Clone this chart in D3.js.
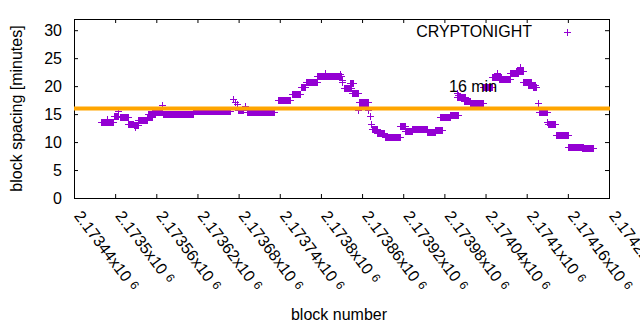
<!DOCTYPE html>
<html>
<head>
<meta charset="utf-8">
<script src="https://cdn.jsdelivr.net/npm/d3@7"></script>
<style>
  html, body { margin: 0; padding: 0; background: #fff; }
  svg { display: block; font-family: "Liberation Sans", Arial, sans-serif; }
</style>
</head>
<body>
<svg id="chart" width="640" height="330"></svg>
<script>
// ---- data (block offset from 2173440, run start/end, block spacing in minutes) ----
const blockBase = 2173440;
const runStart = [39,48,50,58,64,67,78,87,89,94,106,108,113,128,130,174,232,235,238,239,249,252,267,297,318,331,338,355,366,388,390,391,394,402,406,414,415,420,429,431,433,434,442,453,475,483,493,515,526,534,548,558,560,558,568,578,597,609,617,620,636,645,650,655,662,669,676,678,690,691,702,720,741];
const runEnd   = [48,48,57,64,64,79,86,93,89,106,114,118,128,128,173,228,232,235,238,246,249,266,292,315,329,337,354,389,366,388,390,391,404,407,414,414,428,424,429,431,433,442,452,475,483,493,515,526,537,548,560,558,560,570,578,597,609,622,617,636,648,654,650,667,672,674,676,690,690,701,720,742,756];
const runValue = [13.5,14.2,13.5,14.7,15.6,14.4,13.3,13.0,12.7,13.9,14.5,15.0,15.4,16.7,15.1,15.6,17.7,17.2,16.8,15.7,16.4,15.4,15.3,17.6,18.6,19.9,20.8,21.8,22.4,22.2,21.1,20.8,19.6,20.5,18.8,15.7,17.2,16.4,15.7,14.6,13.3,12.3,11.6,10.9,12.8,12.0,12.4,11.8,12.1,14.4,14.9,18.7,18.5,18.0,17.4,17.0,19.9,21.7,22.4,21.3,22.4,22.7,23.4,20.7,20.2,19.8,16.9,15.3,13.6,13.3,11.25,9.05,8.9];

const xTicks = [2173440,2173500,2173560,2173620,2173680,2173740,2173800,2173860,2173920,2173980,2174040,2174100,2174160,2174220];
const yTicks = [0,5,10,15,20,25,30];
const refValue = 16;
const refLabel = "16 min";
const seriesName = "CRYPTONIGHT";

// expand runs to one point per block
const points = [];
runStart.forEach((s, i) => {
  for (let b = s; b <= runEnd[i]; b++) points.push({block: blockBase + b, value: runValue[i]});
});

// ---- layout ----
const svg = d3.select("#chart");
const L = 74, R = 609, T = 19, B = 198;
const x = d3.scaleLinear().domain([2173440, 2174220]).range([L, R]);
const y = d3.scaleLinear().domain([0, 32]).range([B, T]);
const purple = "#9400D3", orange = "#FFA500";
const plusPath = "M-3.5,0H3.5M0,-3.5V3.5";

// axes with inward ticks
const gy = svg.append("g").attr("transform", `translate(${L},0)`)
  .call(d3.axisLeft(y).tickValues(yTicks).tickSizeInner(-4).tickSizeOuter(0).tickPadding(12));
const gyr = svg.append("g").attr("transform", `translate(${R},0)`)
  .call(d3.axisRight(y).tickValues(yTicks).tickSizeInner(-4).tickSizeOuter(0).tickFormat(""));
const gx = svg.append("g").attr("transform", `translate(0,${B})`)
  .call(d3.axisBottom(x).tickValues(xTicks).tickSizeInner(-4).tickSizeOuter(0).tickFormat(""));
const gxt = svg.append("g").attr("transform", `translate(0,${T})`)
  .call(d3.axisTop(x).tickValues(xTicks).tickSizeInner(-4).tickSizeOuter(0).tickFormat(""));
[gy, gyr, gx, gxt].forEach(g => {
  g.select(".domain").remove();
  g.selectAll(".tick line").attr("stroke", "#000");
});
gy.selectAll(".tick text").attr("fill", "#000").attr("font-size", 16)
  .attr("font-family", "Liberation Sans, Arial, sans-serif");

// rotated x tick labels like "2.1735x10^6"
gx.selectAll(".tick").each(function(d) {
  const t = d3.select(this).append("text")
    .attr("transform", "translate(-1,18) rotate(53)")
    .attr("text-anchor", "start")
    .attr("fill", "#000")
    .attr("font-size", 16)
    .attr("font-family", "Liberation Sans, Arial, sans-serif");
  t.append("tspan").text(String(+(d / 1e6).toFixed(5)) + "x10");
  t.append("tspan").attr("dx", 5).attr("dy", -3).attr("font-size", 12).text("6");
});

// border
svg.append("rect").attr("x", L + 0.5).attr("y", T + 0.5)
  .attr("width", R - L).attr("height", B - T)
  .attr("fill", "none").attr("stroke", "#000").attr("stroke-width", 1);

// points
svg.append("g").selectAll("path").data(points).join("path")
  .attr("d", plusPath)
  .attr("transform", d => `translate(${Math.round(x(d.block)) + 0.5},${Math.round(y(d.value)) + 0.5})`)
  .attr("fill", "none").attr("stroke", purple).attr("stroke-width", 1);

// reference line
svg.append("line")
  .attr("x1", L).attr("x2", R + 1)
  .attr("y1", y(refValue)).attr("y2", y(refValue))
  .attr("stroke", orange).attr("stroke-width", 4);

svg.append("text").attr("x", 449).attr("y", 92)
  .attr("font-size", 16).attr("fill", "#000").text(refLabel);

// legend
svg.append("text").attr("x", 532).attr("y", 37).attr("text-anchor", "end")
  .attr("font-size", 16).attr("fill", "#000").text(seriesName);
svg.append("path").attr("d", plusPath)
  .attr("transform", "translate(567.5,32.5)")
  .attr("fill", "none").attr("stroke", purple).attr("stroke-width", 1);

// axis titles
svg.append("text")
  .attr("transform", `translate(22,${(T + B) / 2}) rotate(-90)`)
  .attr("text-anchor", "middle").attr("font-size", 16).attr("fill", "#000")
  .text("block spacing [minutes]");
svg.append("text").attr("x", 339).attr("y", 320).attr("text-anchor", "middle")
  .attr("font-size", 16).attr("fill", "#000").text("block number");
</script>
</body>
</html>
